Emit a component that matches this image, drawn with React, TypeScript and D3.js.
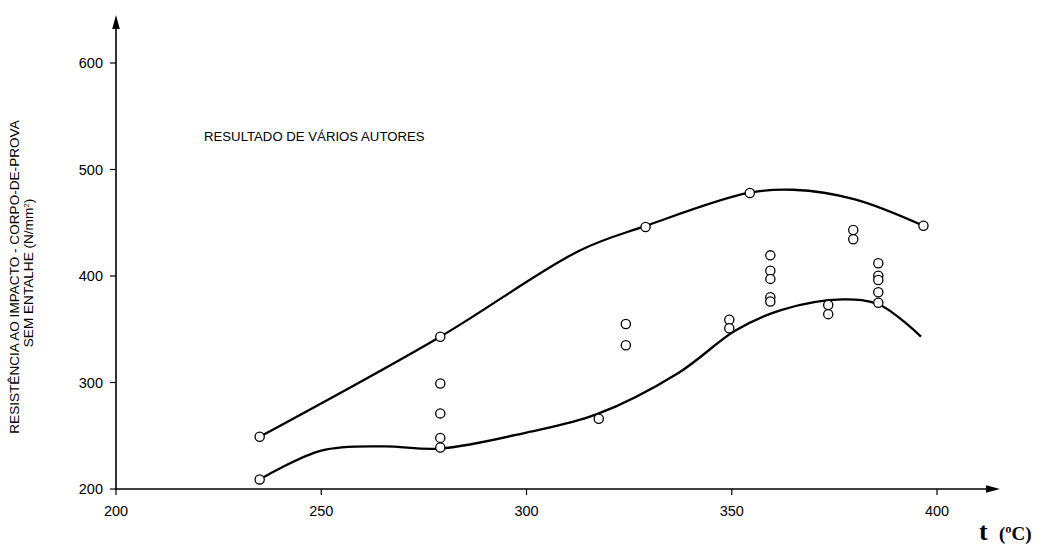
import React from "react";
import * as d3 from "d3";

// Axis ticks
const xTicks = [200, 250, 300, 350, 400];
const yTicks = [200, 300, 400, 500, 600];

// Scatter data (temperature ºC, resistance N/mm²)
const pointT = [235, 235, 279, 279, 279, 279, 279, 317.6, 324.2, 324.2, 349.4, 349.4, 359.4, 359.4, 359.4, 359.4, 359.4, 373.5, 373.5, 379.6, 379.6, 385.7, 385.7, 385.7, 385.7, 385.7, 396.7, 329, 354.4];
const pointR = [249, 209, 343, 299, 271, 248, 239, 266, 355, 335, 359, 351, 419.4, 405, 397.3, 380, 376, 372.7, 364.2, 443.2, 434.5, 412, 400.3, 396.2, 384.7, 374.9, 447.2, 446, 478];

// Upper envelope curve
const upperT = [235, 279, 313, 329, 354, 365, 380, 396.7];
const upperR = [249, 343, 424, 447, 478, 481, 472, 447.2];

// Lower envelope curve
const lowerT = [235, 250, 265, 279, 300, 317, 337, 351, 362, 377, 386, 396.1];
const lowerR = [209, 236, 240, 238, 253, 270, 309, 349, 368, 378, 373, 343];

const titleText = "RESULTADO DE VÁRIOS AUTORES";
const yLabel1 = "RESISTÊNCIA AO IMPACTO - CORPO-DE-PROVA";
const yLabel2a = "SEM ENTALHE (N/mm";
const yLabel2sup = "2";

export default function App() {
  const W = 1044, H = 547;
  const x = d3.scaleLinear().domain([200, 400]).range([116, 937]);
  const y = d3.scaleLinear().domain([200, 600]).range([489, 63]);
  const x0 = x(200), y0 = y(200);
  const font = "'Liberation Sans', Arial, Helvetica, sans-serif";
  const serif = "'Liberation Serif', 'Times New Roman', serif";

  const line = d3
    .line<[number, number]>()
    .x((d) => x(d[0]))
    .y((d) => y(d[1]))
    .curve(d3.curveCatmullRom.alpha(0.5));

  const upper: [number, number][] = upperT.map((t, i) => [t, upperR[i]]);
  const lower: [number, number][] = lowerT.map((t, i) => [t, lowerR[i]]);

  const yMid = 277;

  return (
    <svg
      width={W}
      height={H}
      style={{ position: "absolute", left: 0, top: 0, background: "#fff" }}
    >
      <rect x={0} y={0} width={W} height={H} fill="#fff" />
      {/* axes */}
      <line x1={x0} y1={y0 + 1} x2={x0} y2={24} stroke="#000" strokeWidth={1.6} />
      <path d={`M${x0},15 L${x0 - 3.8},29 L${x0 + 3.8},29 Z`} fill="#000" />
      <line x1={x0 - 1} y1={y0} x2={990} y2={y0} stroke="#000" strokeWidth={1.6} />
      <path d={`M1000,${y0} L986,${y0 - 3.8} L986,${y0 + 3.8} Z`} fill="#000" />

      {/* y ticks */}
      {yTicks.map((v) => (
        <g key={"y" + v}>
          <line x1={x0 - 6} x2={x0} y1={y(v)} y2={y(v)} stroke="#000" strokeWidth={1.2} />
          <text
            x={x0 - 13}
            y={y(v)}
            dy="0.35em"
            textAnchor="end"
            fontFamily={font}
            fontSize={14.5}
            fill="#000"
          >
            {v}
          </text>
        </g>
      ))}
      {/* x ticks */}
      {xTicks.map((v) => (
        <g key={"x" + v}>
          <line x1={x(v)} x2={x(v)} y1={y0} y2={y0 + 6} stroke="#000" strokeWidth={1.2} />
          <text
            x={x(v)}
            y={y0 + 22}
            dy="0.35em"
            textAnchor="middle"
            fontFamily={font}
            fontSize={14.5}
            fill="#000"
          >
            {v}
          </text>
        </g>
      ))}

      {/* axis titles */}
      <text
        transform={`translate(14,${yMid}) rotate(-90)`}
        textAnchor="middle"
        dy="0.35em"
        fontFamily={font}
        fontSize={13.6}
        fill="#000"
      >
        {yLabel1}
      </text>
      <text
        transform={`translate(28,${yMid - 4}) rotate(-90)`}
        textAnchor="middle"
        dy="0.35em"
        fontFamily={font}
        fontSize={13.6}
        fill="#000"
      >
        {yLabel2a}
        <tspan fontSize={8} dy="-0.5em">{yLabel2sup}</tspan>
        <tspan dy="0.3em">)</tspan>
      </text>
      <text x={979} y={540} fontFamily={serif} fontWeight="bold" fontSize={26} fill="#000">
        t
      </text>
      <text x={999} y={540} fontFamily={serif} fontWeight="bold" fontSize={19} fill="#000">
        (ºC)
      </text>

      {/* title */}
      <text x={204} y={136} dy="0.35em" fontFamily={font} fontSize={13.2} fill="#000">
        {titleText}
      </text>

      {/* curves */}
      <path d={line(upper) || ""} fill="none" stroke="#000" strokeWidth={2.3} />
      <path d={line(lower) || ""} fill="none" stroke="#000" strokeWidth={2.3} />

      {/* points */}
      {pointT.map((t, i) => (
        <circle
          key={"p" + i}
          cx={x(t)}
          cy={y(pointR[i])}
          r={4.6}
          fill="#fff"
          stroke="#000"
          strokeWidth={1.3}
        />
      ))}
    </svg>
  );
}
